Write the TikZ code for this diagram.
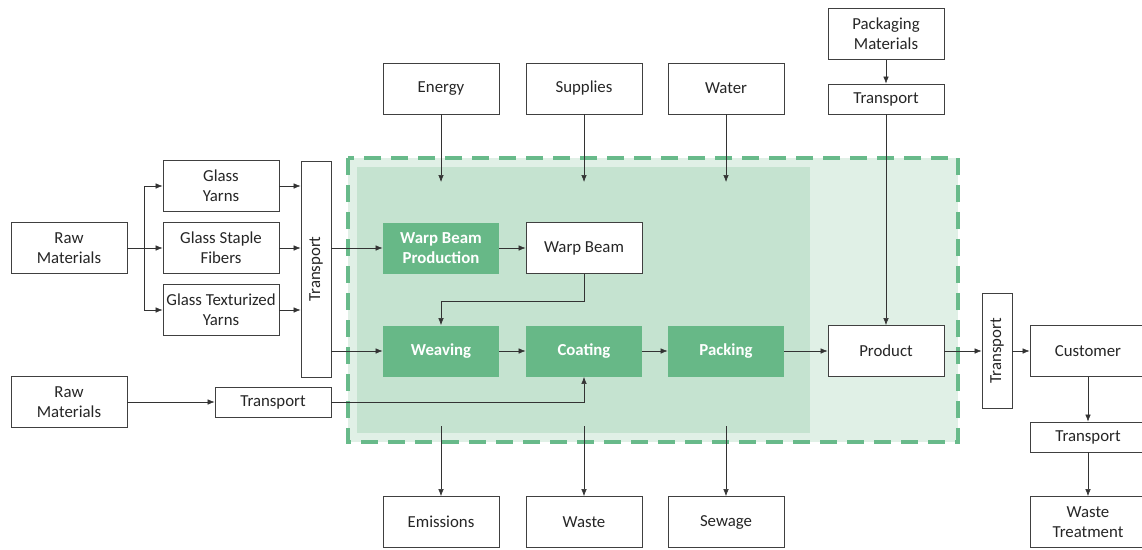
\documentclass[tikz,border=0pt]{standalone}
\usepackage{fontspec}
\setmainfont{Carlito}
\usetikzlibrary{arrows.meta}

\definecolor{procgreen}{RGB}{103,184,135}
\definecolor{dashgreen}{RGB}{104,186,138}
\definecolor{innerfill}{RGB}{197,227,208}
\definecolor{outerfill}{RGB}{224,240,230}
\definecolor{inktext}{RGB}{38,38,38}

\begin{document}
\begin{tikzpicture}[x=1pt, y=-1pt,
    font=\fontsize{16.8}{20}\selectfont,
    box/.style={draw=black!75, line width=0.8pt, fill=white, text=inktext,
      minimum width=116pt, minimum height=51pt, inner sep=0pt, align=center},
    thinbox/.style={box, minimum height=30pt},
    tallbox/.style={box, minimum height=30pt, rotate=90},
    proc/.style={box, draw=none, fill=procgreen, text=white, font=\fontsize{16.8}{20}\selectfont\bfseries},
    arr/.style={->, >={Latex[length=7pt,width=5.5pt]}, line width=0.6pt, black!80},
    ln/.style={line width=0.6pt, black!80}]
  \useasboundingbox (0,0) rectangle (1142,549);

  % system boundary
  \fill[outerfill] (348,158) rectangle (958,442);
  \fill[innerfill] (357,167) rectangle (810,433);
  \draw[dashgreen, line width=3.5pt, dash pattern=on 17pt off 10pt] (348,158) rectangle (958,442);

  % inputs
  \node[box] (raw1) at (69,248) {Raw\\Materials};
  \node[box] (gy) at (221,186) {Glass\\Yarns};
  \node[box] (gsf) at (221,248) {Glass Staple\\Fibers};
  \node[box] (gty) at (221,310) {Glass Texturized\\Yarns};
  \node[tallbox, minimum width=216pt] (tr1) at (316,269) {Transport};
  \node[box] (raw2) at (69,402) {Raw\\Materials};
  \node[thinbox] (tr2) at (273,402) {Transport};

  \node[box] (energy) at (441,88.5) {Energy};
  \node[box] (supplies) at (584,88.5) {Supplies};
  \node[box] (water) at (726,88.5) {Water};
  \node[box] (pm) at (886,34) {Packaging\\Materials};
  \node[thinbox] (tr3) at (886,99) {Transport};

  % process
  \node[proc] (wbp) at (441,248) {Warp Beam\\Production};
  \node[box] (wb) at (584,248) {Warp Beam};
  \node[proc] (weav) at (441,351) {Weaving};
  \node[proc] (coat) at (584,351) {Coating};
  \node[proc] (pack) at (726,351) {Packing};
  \node[box] (prod) at (886,351) {Product};

  % outputs
  \node[box] (emis) at (441,522) {Emissions};
  \node[box] (waste) at (584,522) {Waste};
  \node[box] (sew) at (726,522) {Sewage};
  \node[tallbox, minimum width=115pt] (tr4) at (997,350.5) {Transport};
  \node[box] (cust) at (1088,351) {Customer};
  \node[thinbox] (tr5) at (1088,437) {Transport};
  \node[box] (wt) at (1088,522) {Waste\\Treatment};

  \coordinate (split) at (144,248);
  \coordinate (inE) at (441,182);
  \coordinate (inS) at (584,182);
  \coordinate (inW) at (726,182);
  \coordinate (outE) at (441,426);
  \coordinate (outW) at (584,426);
  \coordinate (outS) at (726,426);

  \draw[ln] (raw1) -- (split);
  \draw[arr] (split) |- (gy);
  \draw[arr] (split) -- (gsf);
  \draw[arr] (split) |- (gty);
  \foreach \n in {gy, gsf, gty}
    \draw[arr] (\n) -- (\n -| tr1.north);

  \draw[arr] (tr1.south |- wbp) -- (wbp);
  \draw[arr] (tr1.south |- weav) -- (weav);
  \draw[arr] (raw2) -- (tr2);
  \draw[arr] (tr2) -| (coat);

  \draw[arr] (wbp) -- (wb);
  \draw[arr] (wb.south) -- ++(0,27) -| (weav.north);
  \draw[arr] (weav) -- (coat);
  \draw[arr] (coat) -- (pack);
  \draw[arr] (pack) -- (prod);

  \draw[arr] (energy) -- (inE);
  \draw[arr] (supplies) -- (inS);
  \draw[arr] (water) -- (inW);
  \draw[arr] (outE) -- (emis);
  \draw[arr] (outW) -- (waste);
  \draw[arr] (outS) -- (sew);

  \draw[arr] (pm) -- (tr3);
  \draw[arr] (tr3) -- (prod);
  \draw[arr] (prod) -- (prod -| tr4.north);
  \draw[arr] (tr4.south |- cust) -- (cust);
  \draw[arr] (cust) -- (tr5);
  \draw[arr] (tr5) -- (wt);
\end{tikzpicture}
\end{document}
